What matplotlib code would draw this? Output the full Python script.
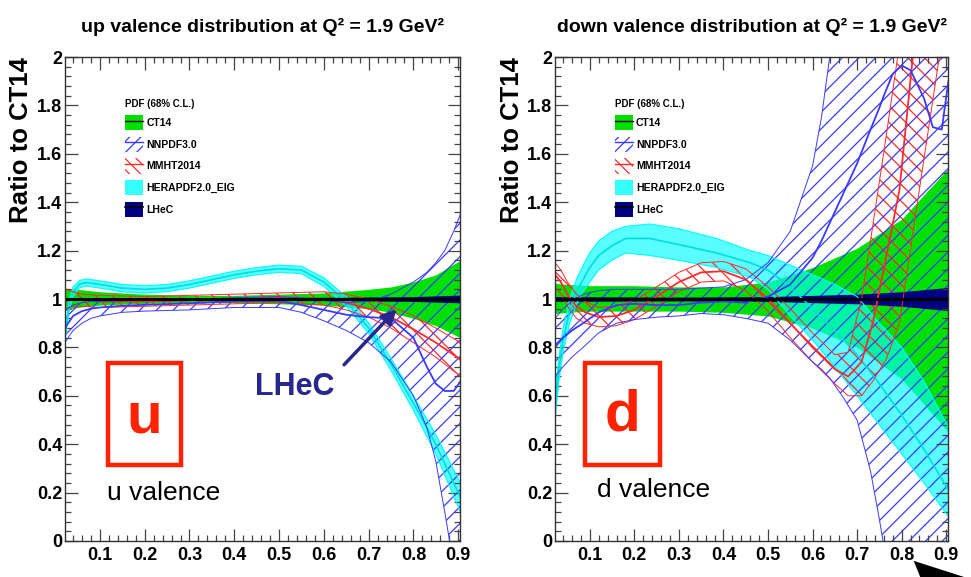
import matplotlib
matplotlib.use("Agg")
import matplotlib.pyplot as plt
from matplotlib.patches import Patch, Rectangle, Polygon
from matplotlib.lines import Line2D
from matplotlib.ticker import FixedLocator, FixedFormatter, AutoMinorLocator

plt.rcParams['font.family'] = ['Liberation Sans', 'DejaVu Sans']
plt.rcParams['hatch.linewidth'] = 0.9

# ---------------- data ----------------
XTICKS = [0.1, 0.2, 0.3, 0.4, 0.5, 0.6, 0.7, 0.8, 0.9]
XTICK_LABELS = ['0.1', '0.2', '0.3', '0.4', '0.5', '0.6', '0.7', '0.8', '0.9']
YTICKS = [0, 0.2, 0.4, 0.6, 0.8, 1.0, 1.2, 1.4, 1.6, 1.8, 2.0]
YTICK_LABELS = ['0', '0.2', '0.4', '0.6', '0.8', '1', '1.2', '1.4', '1.6', '1.8', '2']
PDF_NAMES = ['CT14', 'NNPDF3.0', 'MMHT2014', 'HERAPDF2.0_EIG', 'LHeC']

# up valence
U_CT14_X = [0.022, 0.05, 0.1, 0.2, 0.3, 0.4, 0.5, 0.6, 0.7, 0.75, 0.8, 0.85, 0.905]
U_CT14_HI = [1.045, 1.04, 1.03, 1.02, 1.015, 1.015, 1.02, 1.025, 1.04, 1.05, 1.07, 1.1, 1.16]
U_CT14_LO = [0.955, 0.965, 0.975, 0.982, 0.985, 0.985, 0.98, 0.975, 0.96, 0.945, 0.92, 0.89, 0.84]

U_LHEC_X = [0.022, 0.3, 0.6, 0.8, 0.905]
U_LHEC_HI = [1.006, 1.005, 1.007, 1.01, 1.016]
U_LHEC_LO = [0.994, 0.995, 0.993, 0.99, 0.984]

U_NNPDF_X = [0.022, 0.04, 0.06, 0.08, 0.1, 0.15, 0.2, 0.3, 0.4, 0.5, 0.55, 0.6, 0.65,
             0.7, 0.75, 0.8, 0.83, 0.85, 0.87, 0.89, 0.905]
U_NNPDF_C = [0.88, 0.93, 0.95, 0.96, 0.965, 0.972, 0.976, 0.982, 0.99, 0.992, 0.975, 0.955,
             0.935, 0.925, 0.92, 0.84, 0.72, 0.65, 0.62, 0.62, 0.66]
U_NNPDF_HI = [0.95, 0.975, 0.985, 0.99, 0.99, 0.993, 0.995, 0.998, 1.005, 1.01, 1.005, 0.995,
              0.985, 0.99, 1.02, 1.07, 1.11, 1.15, 1.2, 1.28, 1.35]
U_NNPDF_LO = [0.82, 0.87, 0.9, 0.92, 0.93, 0.945, 0.95, 0.955, 0.965, 0.965, 0.945, 0.91,
              0.87, 0.82, 0.74, 0.6, 0.47, 0.33, 0.12, -0.1, -0.3]

U_MMHT_X = [0.022, 0.04, 0.06, 0.1, 0.2, 0.3, 0.4, 0.5, 0.6, 0.65, 0.7, 0.75, 0.8, 0.85, 0.905]
U_MMHT_C = [1.0, 1.0, 0.995, 0.99, 0.99, 0.995, 1.0, 1.005, 1.0, 0.985, 0.96, 0.925, 0.875, 0.82, 0.75]
U_MMHT_HI = [1.04, 1.03, 1.02, 1.015, 1.01, 1.015, 1.02, 1.025, 1.03, 1.02, 1.0, 0.97, 0.93, 0.88, 0.82]
U_MMHT_LO = [0.96, 0.97, 0.97, 0.965, 0.97, 0.975, 0.98, 0.985, 0.975, 0.955, 0.925, 0.88, 0.82, 0.76, 0.68]

U_HERA_X = [0.022, 0.03, 0.04, 0.055, 0.07, 0.1, 0.15, 0.2, 0.25, 0.3, 0.35, 0.4, 0.45, 0.5,
            0.55, 0.6, 0.65, 0.7, 0.75, 0.8, 0.85, 0.905]
U_HERA_C = [0.84, 0.96, 1.03, 1.062, 1.068, 1.06, 1.045, 1.04, 1.045, 1.06, 1.08, 1.1, 1.115,
            1.125, 1.12, 1.07, 0.99, 0.88, 0.73, 0.57, 0.4, 0.18]
U_HERA_HI = [0.86, 0.98, 1.05, 1.077, 1.083, 1.075, 1.06, 1.055, 1.06, 1.075, 1.095, 1.115, 1.13,
             1.14, 1.135, 1.088, 1.01, 0.902, 0.755, 0.6, 0.44, 0.24]
U_HERA_LO = [0.82, 0.94, 1.01, 1.047, 1.053, 1.045, 1.03, 1.025, 1.03, 1.045, 1.065, 1.085, 1.1,
             1.11, 1.105, 1.052, 0.97, 0.858, 0.705, 0.54, 0.36, 0.12]

# down valence
D_CT14_X = [0.022, 0.05, 0.1, 0.2, 0.3, 0.4, 0.5, 0.6, 0.7, 0.8, 0.905]
D_CT14_HI = [1.065, 1.06, 1.055, 1.055, 1.05, 1.05, 1.07, 1.13, 1.21, 1.33, 1.54]
D_CT14_LO = [0.94, 0.945, 0.95, 0.95, 0.95, 0.945, 0.93, 0.88, 0.8, 0.67, 0.45]

D_LHEC_X = [0.022, 0.3, 0.5, 0.7, 0.8, 0.905]
D_LHEC_HI = [1.01, 1.008, 1.01, 1.02, 1.03, 1.048]
D_LHEC_LO = [0.99, 0.992, 0.99, 0.98, 0.97, 0.952]

D_NNPDF_X = [0.022, 0.04, 0.06, 0.085, 0.12, 0.16, 0.2, 0.25, 0.3, 0.35, 0.4, 0.45, 0.5, 0.55,
             0.6, 0.62, 0.64, 0.67, 0.7, 0.73, 0.75, 0.76, 0.78, 0.8, 0.82, 0.85, 0.87, 0.89, 0.905]
D_NNPDF_C = [0.8, 0.84, 0.87, 0.9, 0.945, 0.975, 0.98, 0.975, 0.975, 0.985, 0.99, 0.985, 1.01, 1.06,
             1.17, 1.24, 1.32, 1.44, 1.56, 1.7, 1.79, 1.84, 1.93, 1.965, 1.945, 1.83, 1.71, 1.7, 1.9]
D_NNPDF_HI = [0.92, 0.96, 0.99, 1.02, 1.035, 1.04, 1.04, 1.04, 1.04, 1.045, 1.05, 1.08, 1.15, 1.28,
              1.55, 1.75, 2.02, 2.4, 2.6, 2.8, 2.9, 3, 3, 3, 3, 3, 3, 3, 3]
D_NNPDF_LO = [0.68, 0.72, 0.76, 0.8, 0.86, 0.9, 0.915, 0.925, 0.93, 0.94, 0.935, 0.92, 0.9, 0.83,
              0.74, 0.71, 0.67, 0.59, 0.5, 0.29, 0.09, -0.02, -0.2, -0.5, -0.8, -1, -1, -1, -1]

D_MMHT_X = [0.022, 0.035, 0.05, 0.07, 0.09, 0.12, 0.16, 0.2, 0.25, 0.3, 0.35, 0.4, 0.45, 0.5,
            0.55, 0.6, 0.65, 0.68, 0.71, 0.735, 0.765, 0.795, 0.825, 0.86, 0.905]
D_MMHT_C = [1.1, 1.07, 1.02, 0.97, 0.945, 0.925, 0.93, 0.955, 1.01, 1.07, 1.11, 1.115, 1.08, 1.0,
            0.9, 0.8, 0.71, 0.68, 0.74, 0.9, 1.17, 1.45, 2.0, 2.5, 3.0]
D_MMHT_HI = [1.15, 1.12, 1.07, 1.02, 0.99, 0.965, 0.97, 0.995, 1.05, 1.11, 1.15, 1.155, 1.125, 1.05,
             0.96, 0.86, 0.77, 0.78, 1.0, 1.3, 1.67, 2.05, 2.5, 3, 3]
D_MMHT_LO = [1.05, 1.02, 0.97, 0.92, 0.9, 0.885, 0.89, 0.915, 0.97, 1.03, 1.07, 1.075, 1.035, 0.95,
             0.84, 0.74, 0.65, 0.6, 0.6, 0.66, 0.75, 0.9, 1.27, 1.7, 2.25]

D_HERA_X = [0.022, 0.03, 0.04, 0.055, 0.07, 0.085, 0.1, 0.12, 0.15, 0.18, 0.235, 0.3, 0.385,
            0.46, 0.5, 0.55, 0.6, 0.65, 0.7, 0.75, 0.8, 0.85, 0.905]
D_HERA_C = [0.55, 0.7, 0.83, 0.95, 1.03, 1.08, 1.13, 1.18, 1.22, 1.25, 1.25, 1.225, 1.19, 1.15,
            1.12, 1.05, 0.96, 0.87, 0.77, 0.65, 0.52, 0.38, 0.21]
D_HERA_HI = [0.6, 0.75, 0.88, 1.0, 1.08, 1.14, 1.19, 1.24, 1.28, 1.3, 1.31, 1.29, 1.25, 1.2, 1.18,
             1.14, 1.1, 1.06, 1.01, 0.9, 0.8, 0.66, 0.47]
D_HERA_LO = [0.5, 0.65, 0.78, 0.9, 0.98, 1.03, 1.07, 1.12, 1.16, 1.19, 1.18, 1.16, 1.13, 1.09,
             1.04, 0.93, 0.83, 0.72, 0.6, 0.48, 0.36, 0.24, 0.1]

GREEN = '#00e000'
NAVY = '#000080'
BLUE = '#3a3aff'
RED = '#ff2a2a'
CYAN = '#00ffff'
BOX_RED = '#ff2200'


def hatched(ax, x, lo, c, hi, color, hatch):
    ax.fill_between(x, lo, hi, facecolor='none', edgecolor=color, hatch=hatch, linewidth=0)
    ax.plot(x, lo, color=color, lw=0.7)
    ax.plot(x, hi, color=color, lw=0.7)
    ax.plot(x, c, color=color, lw=1.3)


def panel(ax, ct14, nnpdf, mmht, hera, lhec):
    ax.fill_between(ct14[0], ct14[1], ct14[2], color=GREEN, lw=0)
    ax.fill_between(hera[0], hera[1], hera[3], facecolor=CYAN, alpha=0.65, edgecolor='none')
    ax.plot(hera[0], hera[1], color=CYAN, lw=0.8)
    ax.plot(hera[0], hera[3], color=CYAN, lw=0.8)
    ax.plot(hera[0], hera[2], color='#00dddd', lw=1.2)
    hatched(ax, mmht[0], mmht[1], mmht[2], mmht[3], RED, '\\\\')
    hatched(ax, nnpdf[0], nnpdf[1], nnpdf[2], nnpdf[3], BLUE, '//')
    ax.fill_between(lhec[0], lhec[1], lhec[2], color=NAVY, lw=0)
    ax.plot([lhec[0][0], lhec[0][-1]], [1, 1], color='black', lw=2.2)

    ax.set_xlim(0.022, 0.904)
    ax.set_ylim(0, 2)
    ax.xaxis.set_major_locator(FixedLocator(XTICKS))
    ax.xaxis.set_major_formatter(FixedFormatter(XTICK_LABELS))
    ax.yaxis.set_major_locator(FixedLocator(YTICKS))
    ax.yaxis.set_major_formatter(FixedFormatter(YTICK_LABELS))
    ax.xaxis.set_minor_locator(AutoMinorLocator(5))
    ax.yaxis.set_minor_locator(AutoMinorLocator(5))
    ax.tick_params(which='both', direction='in', top=True, right=True, width=0.9, color='#444444')
    ax.tick_params(which='major', length=9, labelsize=13)
    ax.tick_params(axis='x', which='major', pad=4)
    ax.tick_params(axis='y', which='major', pad=2)
    ax.tick_params(which='minor', length=4.5)
    for lab in ax.get_xticklabels() + ax.get_yticklabels():
        lab.set_fontweight('bold')
    for s in ax.spines.values():
        s.set_linewidth(1.0)
        s.set_color('#333333')

    ax.set_ylabel('Ratio to CT14', fontsize=18.5, fontweight='bold', loc='top')
    ax.yaxis.set_label_coords(-0.08, 1.0)

    handles = [
        (Patch(facecolor=GREEN, edgecolor='none'), Line2D([], [], color='black', lw=1)),
        (Patch(facecolor='none', edgecolor=BLUE, hatch='///', lw=0), Line2D([], [], color=BLUE, lw=1)),
        (Patch(facecolor='none', edgecolor=RED, hatch='\\\\\\', lw=0), Line2D([], [], color=RED, lw=1)),
        (Patch(facecolor=CYAN, alpha=0.8, edgecolor='none'),),
        (Patch(facecolor=NAVY, edgecolor='none'), Line2D([], [], color='black', lw=1.2)),
    ]
    ax.legend(handles, PDF_NAMES, loc='upper left', bbox_to_anchor=(0.128, 0.933),
              frameon=False, prop={'weight': 'bold', 'size': 7.5},
              title='PDF (68% C.L.)', title_fontproperties={'weight': 'bold', 'size': 7},
              alignment='left', handlelength=1.75, handleheight=1.9, labelspacing=0.6,
              handletextpad=0.3)


fig = plt.figure(figsize=(9.71, 5.77), dpi=100)
ax1 = fig.add_axes([0.0669, 0.0624, 0.4068, 0.8388])
ax2 = fig.add_axes([0.5716, 0.0624, 0.4047, 0.8388])

panel(ax1, (U_CT14_X, U_CT14_LO, U_CT14_HI), (U_NNPDF_X, U_NNPDF_LO, U_NNPDF_C, U_NNPDF_HI),
      (U_MMHT_X, U_MMHT_LO, U_MMHT_C, U_MMHT_HI), (U_HERA_X, U_HERA_LO, U_HERA_C, U_HERA_HI),
      (U_LHEC_X, U_LHEC_LO, U_LHEC_HI))
panel(ax2, (D_CT14_X, D_CT14_LO, D_CT14_HI), (D_NNPDF_X, D_NNPDF_LO, D_NNPDF_C, D_NNPDF_HI),
      (D_MMHT_X, D_MMHT_LO, D_MMHT_C, D_MMHT_HI), (D_HERA_X, D_HERA_LO, D_HERA_C, D_HERA_HI),
      (D_LHEC_X, D_LHEC_LO, D_LHEC_HI))

ax1.set_title('up valence distribution at Q² = 1.9 GeV²', fontsize=14, fontweight='bold', pad=18)
ax2.set_title('down valence distribution at Q² = 1.9 GeV²', fontsize=14, fontweight='bold', pad=18)

# flavour boxes and labels
ax1.add_patch(Rectangle((0.109, 0.157), 0.185, 0.211, transform=ax1.transAxes, fill=False,
                        edgecolor=BOX_RED, lw=3.2, clip_on=False))
ax1.text(0.2, 0.255, 'u', transform=ax1.transAxes, color=BOX_RED, fontsize=42,
         fontweight='bold', ha='center', va='center')
ax1.text(0.106, 0.085, 'u valence', transform=ax1.transAxes, fontsize=19, va='baseline')
ax1.text(0.481, 0.302, 'LHeC', transform=ax1.transAxes, fontsize=22, fontweight='bold',
         color='#28288c', va='baseline')
ax1.annotate('', xy=(0.767, 0.967), xytext=(0.641, 0.72),
             arrowprops=dict(arrowstyle='-|>', color='#28288c', lw=2.5, mutation_scale=22))

ax2.add_patch(Rectangle((0.076, 0.157), 0.191, 0.211, transform=ax2.transAxes, fill=False,
                        edgecolor=BOX_RED, lw=3.2, clip_on=False))
ax2.text(0.172, 0.26, 'd', transform=ax2.transAxes, color=BOX_RED, fontsize=42,
         fontweight='bold', ha='center', va='center')
ax2.text(0.107, 0.091, 'd valence', transform=ax2.transAxes, fontsize=19, va='baseline')

# black arrow head peeking in at the bottom right corner
fig.patches.append(Polygon([(0.941, 0.028), (1.03, -0.02), (0.962, -0.06)], closed=True,
                           transform=fig.transFigure, facecolor='black', edgecolor='none'))

fig.savefig('out.png', dpi=100)
